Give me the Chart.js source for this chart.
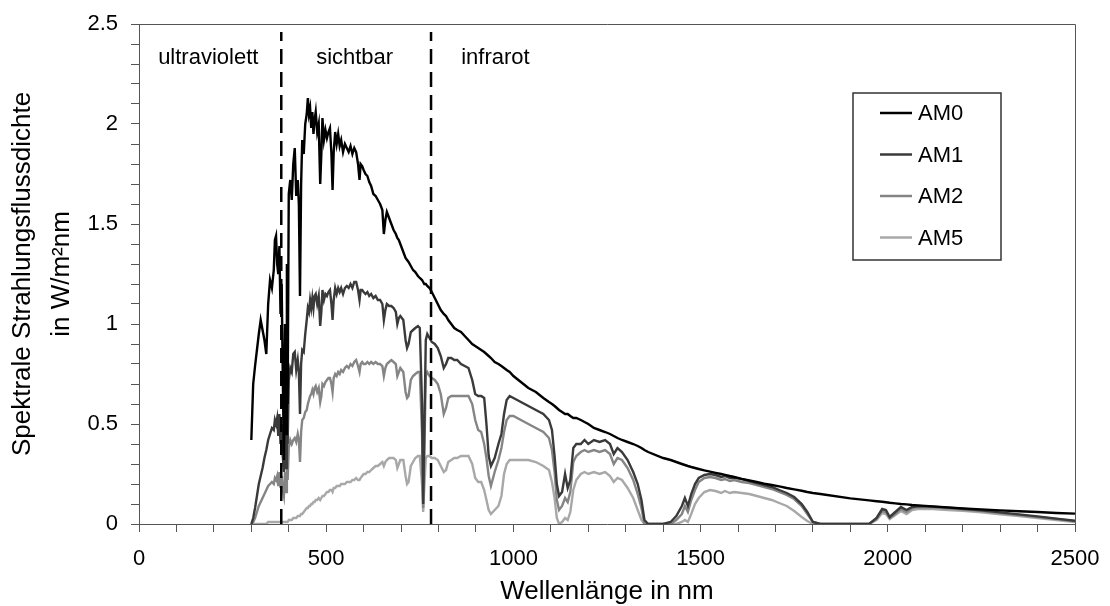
<!DOCTYPE html>
<html>
<head>
<meta charset="utf-8">
<script src="https://cdn.jsdelivr.net/npm/chart.js@4/dist/chart.umd.min.js"></script>
<style>
  html, body { margin: 0; padding: 0; background: #fff; }
  #wrap { width: 1110px; height: 606px; }
</style>
</head>
<body>
<div id="wrap"><canvas id="spectrumChart" width="1110" height="606"></canvas></div>
<script>
// wavelength grid in nm
const wavelength = [
    300,305,310,315,320,325,330,335,340,345,
    350,355,360,363,366,369,372,375,378,381,
    384,387,390,393,395,397,400,404,408,412,
    416,420,424,427,430,433,436,440,444,448,
    451,454,457,460,463,466,469,472,476,480,
    484,487,490,494,498,502,506,510,514,517,
    520,524,528,532,536,540,545,550,555,560,
    565,570,575,580,585,589,592,596,600,605,
    610,615,620,626,632,638,644,650,654,658,
    662,668,674,680,686,690,694,698,702,706,
    712,716,720,726,732,738,745,750,756,759,
    762,766,770,776,782,790,798,806,814,820,
    826,834,842,850,860,870,880,890,898,906,
    914,922,928,934,940,950,960,968,975,982,
    990,1000,1020,1040,1060,1080,1095,1103,1110,1116,
    1122,1130,1138,1145,1152,1160,1168,1180,1190,1200,
    1215,1230,1245,1258,1268,1278,1290,1305,1320,1332,
    1342,1350,1360,1400,1420,1435,1450,1458,1466,1475,
    1485,1495,1510,1525,1540,1555,1565,1578,1590,1610,
    1630,1650,1670,1690,1710,1730,1750,1770,1785,1800,
    1820,1900,1950,1970,1985,1995,2005,2020,2035,2050,
    2065,2080,2120,2160,2200,2250,2300,2350,2400,2450,
    2500
];

// spectral irradiance in W/m2nm
const am0 = [
    0.42,0.70,0.79,0.87,0.95,1.02,0.97,0.92,0.85,1.10,
    1.22,1.18,1.27,1.42,1.44,1.30,1.25,1.39,1.05,1.20,
    0.75,0.32,1.00,0.45,1.30,0.60,1.65,1.72,1.62,1.80,
    1.88,1.64,1.72,1.60,1.14,1.70,1.92,1.85,2.00,2.05,
    2.13,2.05,2.08,1.98,2.06,1.95,2.02,2.06,1.96,2.00,
    1.70,1.85,2.03,1.92,1.97,1.93,1.96,1.98,1.85,1.67,
    1.86,1.96,1.90,1.95,1.89,1.92,1.86,1.90,1.88,1.86,
    1.89,1.85,1.88,1.86,1.80,1.72,1.80,1.79,1.77,1.75,
    1.74,1.71,1.69,1.65,1.64,1.62,1.60,1.57,1.45,1.52,
    1.56,1.53,1.50,1.47,1.45,1.43,1.42,1.40,1.38,1.36,
    1.33,1.32,1.31,1.29,1.27,1.26,1.24,1.23,1.22,1.21,
    1.20,1.20,1.19,1.18,1.16,1.13,1.10,1.07,1.05,1.04,
    1.02,1.00,0.98,0.97,0.96,0.94,0.92,0.90,0.89,0.88,
    0.87,0.86,0.85,0.84,0.83,0.81,0.80,0.79,0.78,0.77,
    0.76,0.74,0.71,0.68,0.66,0.63,0.61,0.60,0.59,0.58,
    0.57,0.56,0.55,0.55,0.54,0.53,0.53,0.52,0.51,0.50,
    0.48,0.47,0.46,0.45,0.44,0.43,0.42,0.41,0.40,0.39,
    0.38,0.37,0.36,0.33,0.32,0.31,0.30,0.295,0.29,0.285,
    0.28,0.275,0.268,0.262,0.256,0.25,0.246,0.24,0.235,0.226,
    0.218,0.21,0.202,0.195,0.188,0.18,0.173,0.166,0.16,0.155,
    0.15,0.128,0.118,0.114,0.111,0.109,0.106,0.103,0.10,0.098,
    0.095,0.093,0.088,0.083,0.078,0.073,0.068,0.064,0.06,0.055,
    0.052
];

const am1 = [
    0.00,0.03,0.08,0.14,0.20,0.24,0.28,0.33,0.37,0.42,
    0.45,0.48,0.47,0.52,0.50,0.53,0.44,0.55,0.40,0.50,
    0.34,0.26,0.45,0.28,0.55,0.40,0.72,0.78,0.76,0.85,
    0.86,0.77,0.82,0.76,0.55,0.80,0.87,0.86,0.95,1.02,
    1.08,1.06,1.12,1.08,1.13,1.08,1.14,1.15,1.10,1.14,
    0.99,1.06,1.17,1.12,1.15,1.14,1.16,1.17,1.10,1.02,
    1.12,1.18,1.15,1.18,1.16,1.18,1.15,1.18,1.19,1.18,
    1.20,1.18,1.21,1.21,1.17,1.12,1.17,1.17,1.16,1.15,
    1.16,1.14,1.15,1.13,1.14,1.12,1.12,1.10,1.02,1.07,
    1.10,1.09,1.09,1.08,1.06,1.00,1.03,1.04,1.03,1.02,
    0.92,0.88,0.90,0.96,0.97,0.98,0.99,0.98,0.60,0.10,
    0.45,0.92,0.95,0.93,0.91,0.90,0.88,0.84,0.78,0.80,
    0.83,0.83,0.82,0.82,0.80,0.79,0.78,0.72,0.65,0.64,
    0.64,0.63,0.50,0.34,0.29,0.33,0.40,0.45,0.55,0.62,
    0.64,0.63,0.61,0.59,0.57,0.55,0.52,0.47,0.34,0.20,
    0.14,0.16,0.25,0.18,0.22,0.38,0.40,0.40,0.42,0.40,
    0.42,0.41,0.42,0.40,0.35,0.38,0.36,0.32,0.26,0.20,
    0.12,0.02,0.00,0.00,0.01,0.04,0.09,0.13,0.09,0.15,
    0.20,0.23,0.245,0.25,0.245,0.235,0.24,0.23,0.232,0.224,
    0.215,0.205,0.195,0.185,0.17,0.155,0.135,0.10,0.06,0.01,
    0.00,0.00,0.00,0.03,0.075,0.07,0.035,0.06,0.085,0.07,
    0.085,0.09,0.087,0.082,0.076,0.068,0.058,0.048,0.038,0.027,
    0.016
];

const am2 = [
    0.00,0.01,0.03,0.06,0.09,0.11,0.13,0.15,0.17,0.19,
    0.20,0.21,0.20,0.23,0.22,0.24,0.19,0.26,0.18,0.24,
    0.17,0.14,0.26,0.16,0.30,0.22,0.38,0.42,0.40,0.42,
    0.43,0.41,0.45,0.42,0.31,0.46,0.52,0.53,0.56,0.57,
    0.60,0.62,0.64,0.65,0.67,0.65,0.68,0.69,0.66,0.68,
    0.61,0.64,0.70,0.69,0.71,0.72,0.73,0.73,0.70,0.66,
    0.73,0.75,0.74,0.76,0.75,0.77,0.76,0.78,0.79,0.78,
    0.80,0.79,0.81,0.82,0.79,0.76,0.80,0.81,0.80,0.80,
    0.81,0.80,0.81,0.80,0.81,0.80,0.80,0.79,0.74,0.78,
    0.80,0.81,0.82,0.81,0.80,0.74,0.76,0.78,0.77,0.76,
    0.66,0.63,0.64,0.72,0.74,0.75,0.76,0.76,0.45,0.08,
    0.35,0.74,0.76,0.74,0.73,0.72,0.70,0.65,0.55,0.58,
    0.63,0.64,0.64,0.64,0.64,0.64,0.64,0.60,0.52,0.47,
    0.46,0.40,0.33,0.24,0.19,0.26,0.32,0.38,0.46,0.52,
    0.54,0.54,0.52,0.50,0.48,0.46,0.43,0.37,0.26,0.12,
    0.07,0.09,0.13,0.11,0.16,0.31,0.34,0.36,0.37,0.36,
    0.37,0.36,0.37,0.35,0.30,0.33,0.32,0.28,0.22,0.15,
    0.08,0.00,0.00,0.00,0.00,0.02,0.05,0.09,0.06,0.12,
    0.17,0.21,0.23,0.235,0.23,0.22,0.225,0.215,0.22,0.21,
    0.205,0.195,0.185,0.175,0.16,0.145,0.125,0.09,0.05,0.01,
    0.00,0.00,0.00,0.025,0.065,0.06,0.03,0.05,0.075,0.06,
    0.08,0.085,0.083,0.078,0.072,0.065,0.055,0.045,0.035,0.025,
    0.014
];

const am5 = [
    0.00,0.00,0.00,0.00,0.00,0.00,0.00,0.00,0.00,0.01,
    0.01,0.01,0.01,0.01,0.01,0.01,0.01,0.01,0.01,0.01,
    0.01,0.01,0.01,0.01,0.01,0.01,0.02,0.02,0.02,0.03,
    0.03,0.03,0.04,0.04,0.04,0.05,0.05,0.06,0.07,0.08,
    0.08,0.09,0.09,0.10,0.10,0.11,0.11,0.12,0.12,0.13,
    0.12,0.13,0.14,0.14,0.15,0.16,0.16,0.17,0.17,0.16,
    0.18,0.18,0.19,0.19,0.19,0.20,0.20,0.20,0.21,0.21,
    0.21,0.22,0.22,0.23,0.22,0.22,0.23,0.24,0.25,0.25,
    0.26,0.26,0.27,0.28,0.29,0.29,0.30,0.31,0.29,0.31,
    0.32,0.33,0.33,0.33,0.32,0.28,0.30,0.32,0.32,0.32,
    0.24,0.20,0.21,0.29,0.31,0.33,0.34,0.34,0.20,0.06,
    0.18,0.33,0.34,0.34,0.33,0.33,0.32,0.29,0.26,0.27,
    0.31,0.32,0.33,0.33,0.34,0.34,0.34,0.30,0.23,0.21,
    0.21,0.17,0.12,0.07,0.05,0.07,0.09,0.14,0.25,0.30,
    0.32,0.32,0.32,0.32,0.31,0.29,0.27,0.21,0.13,0.03,
    0.00,0.01,0.03,0.02,0.06,0.17,0.22,0.25,0.26,0.25,
    0.26,0.25,0.26,0.24,0.21,0.23,0.22,0.18,0.13,0.07,
    0.02,0.00,0.00,0.00,0.00,0.00,0.01,0.02,0.01,0.05,
    0.10,0.13,0.16,0.17,0.165,0.155,0.165,0.155,0.16,0.155,
    0.15,0.14,0.13,0.12,0.105,0.09,0.065,0.035,0.015,0.00,
    0.00,0.00,0.00,0.02,0.055,0.05,0.025,0.045,0.065,0.05,
    0.07,0.075,0.075,0.07,0.066,0.058,0.048,0.04,0.03,0.02,
    0.01
];

const seriesNames = ['AM0', 'AM1', 'AM2', 'AM5'];
const seriesValues = [am0, am1, am2, am5];
const seriesColors = ['#000000', '#3a3a3a', '#858585', '#a8a8a8'];

// borders between the spectral regions (nm) and their names
const regionBorders = [380, 780];
const regionNames = ['ultraviolett', 'sichtbar', 'infrarot'];
const regionCenters = [185, 576, 952];

const FONT = "'Liberation Sans', Arial, sans-serif";

function toPoints(values) {
    return wavelength.map((nm, i) => ({ x: nm, y: values[i] }));
}

const datasets = seriesValues.map((values, i) => ({
    label: seriesNames[i],
    data: toPoints(values),
    borderColor: seriesColors[i],
    borderWidth: 2.4,
    pointRadius: 0,
    tension: 0,
    fill: false,
    order: i + 1
}));

regionBorders.forEach(nm => {
    datasets.push({
        label: '',
        data: [{ x: nm, y: 0 }, { x: nm, y: 2.46 }],
        borderColor: '#000',
        borderWidth: 2.5,
        borderDash: [15, 8],
        pointRadius: 0,
        order: 0
    });
});

// frame, region names and boxed legend
const decorations = {
    id: 'decorations',
    afterDatasetsDraw(chart) {
        const ctx = chart.ctx;
        const area = chart.chartArea;
        const xs = chart.scales.x;
        const ys = chart.scales.y;
        ctx.save();

        ctx.strokeStyle = '#555';
        ctx.lineWidth = 1;
        ctx.beginPath();
        ctx.moveTo(area.left, area.top + 0.5);
        ctx.lineTo(area.right + 0.5, area.top + 0.5);
        ctx.lineTo(area.right + 0.5, area.bottom);
        ctx.stroke();

        ctx.fillStyle = '#000';
        ctx.font = '22px ' + FONT;
        ctx.textAlign = 'center';
        ctx.textBaseline = 'middle';
        regionNames.forEach((name, i) => {
            ctx.fillText(name, xs.getPixelForValue(regionCenters[i]), ys.getPixelForValue(2.33));
        });

        ctx.fillStyle = '#fff';
        ctx.fillRect(853, 93, 148, 167);
        ctx.strokeStyle = '#333';
        ctx.lineWidth = 1.5;
        ctx.strokeRect(853, 93, 148, 167);
        ctx.textAlign = 'left';
        seriesNames.forEach((name, i) => {
            const y = 113 + i * 41.5;
            ctx.strokeStyle = seriesColors[i];
            ctx.lineWidth = 2.5;
            ctx.beginPath();
            ctx.moveTo(880, y);
            ctx.lineTo(912, y);
            ctx.stroke();
            ctx.fillStyle = '#000';
            ctx.fillText(name, 918, y + 1);
        });
        ctx.restore();
    }
};

const ctx = document.getElementById('spectrumChart').getContext('2d');
const spectrumChart = new Chart(ctx, {
    type: 'line',
    data: { datasets: datasets },
    options: {
        responsive: false,
        animation: false,
        events: [],
        layout: { padding: { top: 24, right: 35, left: 0, bottom: 0 } },
        plugins: {
            legend: { display: false },
            tooltip: { enabled: false }
        },
        scales: {
            x: {
                type: 'linear',
                min: 0,
                max: 2500,
                afterFit: scale => {
                    scale.height = 82;
                    scale.paddingLeft = 0;
                    scale.paddingRight = 0;
                },
                grid: { drawOnChartArea: false, tickLength: 8, color: '#555' },
                border: { color: '#555', width: 1 },
                ticks: {
                    stepSize: 100,
                    autoSkip: false,
                    maxTicksLimit: 40,
                    maxRotation: 0,
                    padding: 14,
                    color: '#000',
                    font: { family: FONT, size: 22 },
                    callback: v => (v % 500 === 0 ? String(v) : '')
                },
                title: {
                    display: true,
                    text: 'Wellenlänge in nm',
                    color: '#000',
                    font: { family: FONT, size: 26, lineHeight: 1.1 },
                    padding: { top: 0, bottom: 0 }
                }
            },
            y: {
                type: 'linear',
                min: 0,
                max: 2.5,
                afterFit: scale => {
                    scale.width = 139;
                    scale.paddingTop = 0;
                    scale.paddingBottom = 0;
                },
                grid: { drawOnChartArea: false, tickLength: 8, color: '#555' },
                border: { color: '#555', width: 1 },
                ticks: {
                    stepSize: 0.1,
                    autoSkip: false,
                    maxTicksLimit: 40,
                    padding: 13,
                    color: '#000',
                    font: { family: FONT, size: 22 },
                    callback: v => {
                        const t = Math.round(v * 10);
                        return t % 5 === 0 ? String(t / 10) : '';
                    }
                },
                title: {
                    display: true,
                    text: ['Spektrale Strahlungsflussdichte', 'in W/m²nm'],
                    color: '#000',
                    font: { family: FONT, size: 26, lineHeight: 1.5 },
                    padding: { top: 3, bottom: 0 }
                }
            }
        }
    },
    plugins: [decorations]
});
</script>
</body>
</html>
